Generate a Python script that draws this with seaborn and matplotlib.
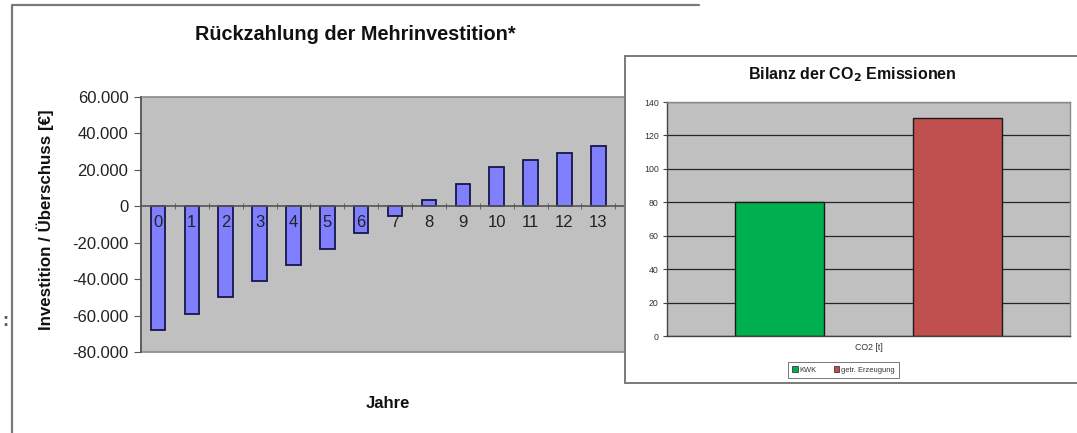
import matplotlib
matplotlib.use("Agg")
import matplotlib.pyplot as plt
from matplotlib.patches import Rectangle
from matplotlib.lines import Line2D
import seaborn as sns
import pandas as pd

# Payback of the additional investment (EUR per year)
years = [str(y) for y in range(16)]
balance = [-68000, -59000, -50000, -41200, -32300, -23500, -14600, -5300,
           3600, 12400, 21300, 25500, 29200, 33200, 37300, 41000]
y_ticks = [-80000, -60000, -40000, -20000, 0, 20000, 40000, 60000]

# CO2 balance (t)
co2_category = ["CO2 [t]", "CO2 [t]"]
co2_source = ["KWK", "getr. Erzeugung"]
co2_values = [80, 130.7]
co2_ticks = [0, 20, 40, 60, 80, 100, 120, 140]
co2_colors = ["#00b050", "#c0504d"]

sns.set_style("white")
plt.rcParams["font.family"] = ["Liberation Sans", "DejaVu Sans"]

W, H = 1077, 433
fig = plt.figure(figsize=(W / 100, H / 100), dpi=100)
fig.patch.set_facecolor("white")


def fx(px):
    return px / W


def fy(py):
    return 1 - py / H


# outer frame of the payback chart
fig.add_artist(Line2D([fx(12), fx(12), fx(699)], [fy(433), fy(5), fy(5)],
                      color="#7a7a7a", lw=1.6, zorder=0))

# ---- payback chart ----
ax = fig.add_axes([fx(141), fy(352), fx(683) - fx(141), fy(97) - fy(352)], zorder=1)
ax.set_facecolor("#c0c0c0")
ax.patch.set_edgecolor("#8a8a8a")
ax.patch.set_linewidth(1.2)
df = pd.DataFrame({"Jahr": years, "Wert": balance})
sns.barplot(data=df, x="Jahr", y="Wert", order=years, color="#8080ff",
            saturation=1, edgecolor="#16164a", linewidth=1.3, width=0.43, ax=ax)
ax.set_axisbelow(False)
ax.set_xlim(-0.5, len(years) - 0.5)
ax.set_ylim(-80000, 60000)
ax.set_yticks(y_ticks)
ax.set_yticklabels([f"{v:,.0f}".replace(",", ".") for v in y_ticks],
                   fontsize=12, color="#222222")
for s in ["top", "right"]:
    ax.spines[s].set_visible(False)
ax.spines["left"].set_color("#555555")
ax.spines["left"].set_linewidth(1.2)
ax.spines["bottom"].set_position(("data", 0))
ax.spines["bottom"].set_color("#555555")
ax.spines["bottom"].set_linewidth(1.2)
ax.tick_params(axis="y", direction="out", length=5, color="#555555", pad=4, left=True)
ax.set_xticks(range(len(years)))
ax.set_xticklabels(years, fontsize=12, color="#222222")
ax.tick_params(axis="x", length=0, pad=6)
ax.set_xticks([i + 0.5 for i in range(len(years) - 1)], minor=True)
ax.tick_params(axis="x", which="minor", direction="inout", length=5,
               color="#555555", bottom=True)
ax.set_xlabel("")
ax.set_ylabel("")

fig.text(fx(355), fy(35), "Rückzahlung der Mehrinvestition*", ha="center",
         va="center", fontsize=14.3, fontweight="bold", color="#111111")
fig.text(fx(45), fy(220), "Investition / Überschuss [€]", ha="center",
         va="center", rotation=90, fontsize=12.2, fontweight="bold", color="#111111")
fig.text(fx(388), fy(403), "Jahre", ha="center", va="center", fontsize=12,
         fontweight="bold", color="#111111")
fig.text(fx(5), fy(321), ":", ha="center", va="center", fontsize=13,
         fontweight="bold", color="#555555")

# ---- CO2 balance chart (on its own white card) ----
fig.add_artist(Rectangle((fx(625), fy(383)), fx(1090) - fx(625), fy(56) - fy(383),
                         transform=fig.transFigure, facecolor="white",
                         edgecolor="#7a7a7a", lw=1.4, zorder=5))

ax2 = fig.add_axes([fx(667), fy(336), fx(1070) - fx(667), fy(102) - fy(336)], zorder=6)
ax2.set_facecolor("#c0c0c0")
co2 = pd.DataFrame({"Kategorie": co2_category, "Quelle": co2_source, "CO2": co2_values})
sns.barplot(data=co2, x="Kategorie", y="CO2", hue="Quelle", hue_order=co2_source,
            palette=co2_colors, saturation=1, edgecolor="#1a1a1a", linewidth=1.0,
            width=0.883, gap=0.495, legend=False, ax=ax2)
ax2.set_xlim(-0.5, 0.5)
ax2.set_ylim(0, 140)
ax2.set_yticks(co2_ticks)
ax2.set_yticklabels([str(v) for v in co2_ticks], fontsize=6.3, color="#333333")
ax2.yaxis.grid(True, color="#262626", lw=0.9)
ax2.set_axisbelow(True)
ax2.tick_params(axis="y", direction="out", length=3, color="#444444", pad=3, left=True)
ax2.tick_params(axis="x", length=0, labelsize=6.3, labelcolor="#333333", pad=5)
for s in ["top", "right"]:
    ax2.spines[s].set_color("#8a8a8a")
    ax2.spines[s].set_linewidth(1.0)
for s in ["left", "bottom"]:
    ax2.spines[s].set_color("#444444")
    ax2.spines[s].set_linewidth(1.0)
ax2.set_xlabel("")
ax2.set_ylabel("")

fig.text(fx(852), fy(75), "Bilanz der CO$_\\mathbf{2}$ Emissionen", ha="center",
         va="center", fontsize=11.5, fontweight="bold", color="#111111", zorder=7)

handles = [Rectangle((0, 0), 1, 1, facecolor=c, edgecolor="#222222", lw=0.5)
           for c in co2_colors]
leg = fig.legend(handles, co2_source, loc="center", ncol=2,
                 bbox_to_anchor=(fx(843.5), fy(370)), fontsize=5.4, frameon=True,
                 fancybox=False, edgecolor="#555555", handlelength=0.7,
                 handleheight=0.7, handletextpad=0.3, columnspacing=2.2,
                 borderpad=0.6, labelcolor="#333333")
leg.get_frame().set_linewidth(0.7)
leg.set_zorder(8)

fig.savefig("out.png", dpi=100, facecolor="white")
